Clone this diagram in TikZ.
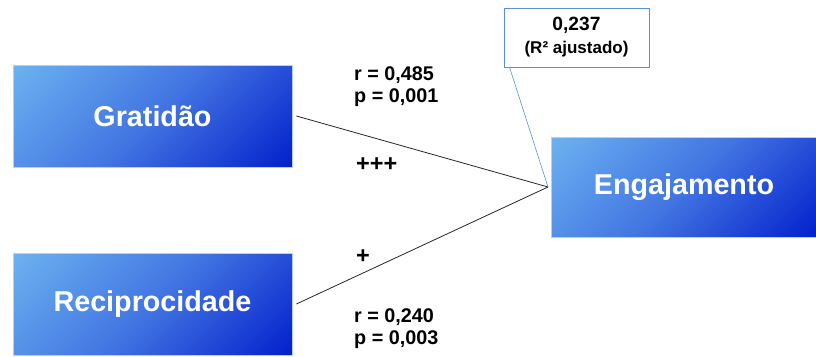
\documentclass[tikz,border=0pt]{standalone}
\usepackage{fontspec}
\setmainfont{Liberation Sans}
\usetikzlibrary{positioning}

\definecolor{boxlight}{HTML}{6CB2F0}
\definecolor{boxmid}{HTML}{4275E2}
\definecolor{boxdark}{HTML}{0320CC}
\definecolor{boxedge}{HTML}{B8CFF5}
\definecolor{calloutblue}{HTML}{5B8FD8}

\pgfdeclareverticalshading{boxshade}{100bp}{color(0bp)=(boxdark);
  color(14.6bp)=(boxdark); color(50bp)=(boxmid);
  color(85.4bp)=(boxlight); color(100bp)=(boxlight)}

\tikzset{
  construct/.style={rectangle, shading=boxshade, shading angle=45,
    draw=boxedge, line width=0.8pt,
    minimum width=279pt, minimum height=102pt, inner sep=0pt,
    text=white, font=\fontsize{28.7}{32}\selectfont\bfseries},
  stat/.style={anchor=west, align=left, inner sep=0pt,
    font=\fontsize{19.8}{22}\selectfont\bfseries},
  sign/.style={anchor=west, inner sep=0pt,
    font=\fontsize{23.5}{26}\selectfont\bfseries},
  link/.style={draw=black!85, line width=0.8pt},
  callout/.style={rectangle, draw=calloutblue, line width=0.8pt, fill=white,
    minimum width=145pt, minimum height=59pt, inner sep=0pt, align=center,
    font=\fontsize{19.2}{23}\selectfont\bfseries}
}

\begin{document}
\begin{tikzpicture}[x=1pt,y=-1pt]
\useasboundingbox (0,0) rectangle (816,356);

\node[construct] (grat) at (152.5,116) {Gratidão};
\node[construct] (recip) at (152.5,304) {Reciprocidade};
\node[construct, minimum width=266pt, minimum height=100pt] (engaj) at (684,187) {Engajamento};

\coordinate (tip) at (548,187);

% caminhos
\draw[link] ([xshift=4pt]grat.east) -- (tip);
\draw[link] ([xshift=4pt]recip.east) -- (tip);

% coeficientes
\node[stat] (statgrat) at (354,87) {r = 0,485\\p = 0,001};
\node[sign] (signgrat) at (356,165) {+++};
\node[sign] (signrecip) at (356,257) {+};
\node[stat] (statrecip) at (354,329) {r = 0,240\\p = 0,003};

% R2
\node[callout] (rsq) at (576.5,37.5)
  {0,237\\{\fontsize{17}{23}\selectfont (R² ajustado)}};
\draw[draw=calloutblue, line width=0.6pt] ([xshift=6pt]rsq.south west) -- (tip);
\end{tikzpicture}
\end{document}
